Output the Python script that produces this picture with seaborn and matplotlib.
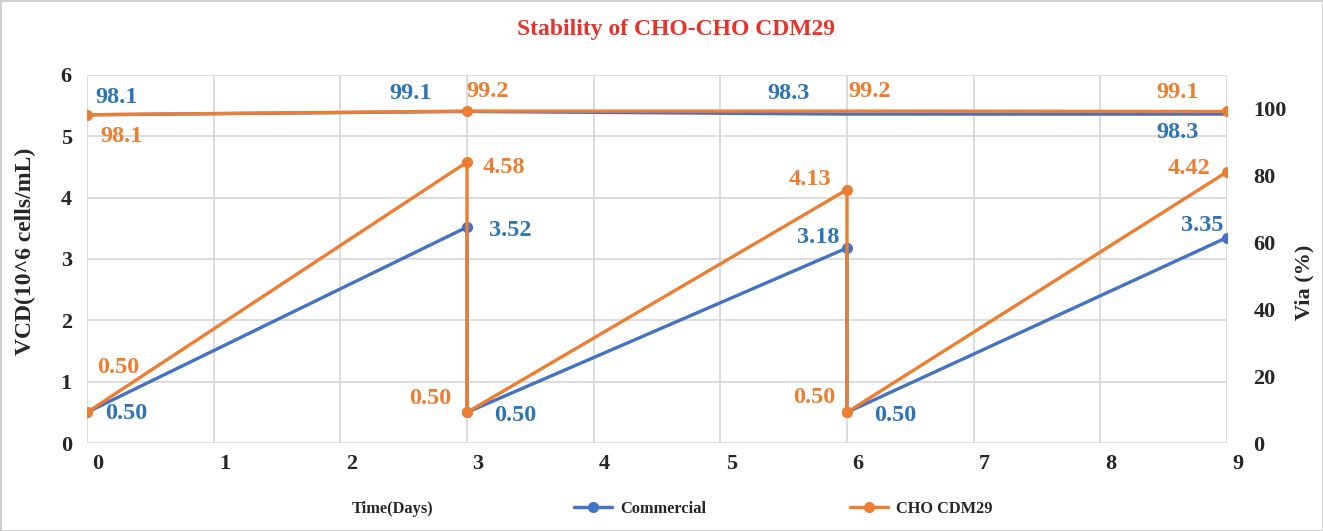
import numpy as np
import pandas as pd
import seaborn as sns
import matplotlib.pyplot as plt
from matplotlib.lines import Line2D
from matplotlib.transforms import ScaledTranslation

# data
days = [0, 3, 3, 6, 6, 9]
vcd_commercial = [0.50, 3.52, 0.50, 3.18, 0.50, 3.35]
vcd_cdm29 = [0.50, 4.58, 0.50, 4.13, 0.50, 4.42]
via_days = [0, 3, 6, 9]
via_commercial = [98.1, 99.1, 98.3, 98.3]
via_cdm29 = [98.1, 99.2, 99.2, 99.1]
series_names = ["Commercial", "CHO CDM29"]

BLUE = "#4472C4"
ORANGE = "#ED7D31"

sns.set_theme(style="white")
plt.rcParams['font.family'] = ['Liberation Serif', 'DejaVu Serif']
plt.rcParams['font.weight'] = 'bold'

fig = plt.figure(figsize=(13.23, 5.31), dpi=100)
fig.patch.set_edgecolor('#d0d0d0')
fig.patch.set_linewidth(2)
ax = fig.add_axes([0.0658, 0.1657, 0.8616, 0.6931])
ax2 = ax.twinx()

for y, c in [(vcd_commercial, BLUE), (vcd_cdm29, ORANGE)]:
    sns.lineplot(x=days, y=y, ax=ax, sort=False, color=c, marker='o',
                 markersize=8, markeredgewidth=0, linewidth=2.4, estimator=None)
# viability lines: only the orange one shows markers in the original
sns.lineplot(x=via_days, y=via_commercial, ax=ax2, sort=False, color=BLUE,
             linewidth=2.4, estimator=None)
sns.lineplot(x=via_days, y=via_cdm29, ax=ax2, sort=False, color=ORANGE, marker='o',
             markersize=8, markeredgewidth=0, linewidth=2.4, estimator=None,
             markevery=[0, 1, 3])

ax.set_xlim(0, 9)
ax.set_ylim(0, 6)
ax2.set_ylim(0, 110)
ax.set_xticks(range(10))
ax.set_yticks(range(7))
ax2.set_yticks(range(0, 101, 20))
ax.grid(True, color='#d9d9d9', linewidth=1.3)
ax.set_axisbelow(True)
for a in (ax, ax2):
    for s in a.spines.values():
        s.set_visible(False)
ax.tick_params(axis='x', length=0, pad=8, labelsize=16)
ax.tick_params(axis='y', length=0, pad=11, labelsize=16)
ax2.tick_params(axis='y', length=0, pad=19, labelsize=16)
for lab in ax.get_xticklabels():
    lab.set_transform(lab.get_transform() + ScaledTranslation(0.11, 0, fig.dpi_scale_trans))

ax.set_ylabel("VCD(10^6 cells/mL)", fontsize=17, fontweight='bold')
ax2.set_ylabel("Via (%)", fontsize=16, fontweight='bold')
ax.set_xlabel("")
ax.yaxis.set_label_coords(-0.045, 0.52)
ax2.yaxis.set_label_coords(1.059, 0.437)

fig.text(0.511, 0.944, "Stability of CHO-CHO CDM29", color='#E8332A',
         fontsize=17, fontweight='bold', ha='center', va='center')

# data labels, offsets in pixels
def put(a, xs, ys, texts, offs, color):
    for x, y, t, (dx, dy, ha) in zip(xs, ys, texts, offs):
        a.annotate(t, (x, y), xytext=(dx, dy), textcoords='offset pixels',
                   ha=ha, va='center', color=color, fontsize=17.5, fontweight='bold')

put(ax, days, vcd_commercial, [f"{v:.2f}" for v in vcd_commercial],
    [(18, -1, 'left'), (22, -3, 'left'), (27, -3, 'left'),
     (-8, 10, 'right'), (27, -3, 'left'), (-3, 12, 'right')], '#2E75B6')
put(ax, days, vcd_cdm29, [f"{v:.2f}" for v in vcd_cdm29],
    [(10, 45, 'left'), (16, -5, 'left'), (-16, 14, 'right'),
     (-16, 10, 'right'), (-12, 15, 'right'), (-17, 3, 'right')], ORANGE)
put(ax2, via_days, via_commercial, [f"{v:.1f}" for v in via_commercial],
    [(8, 17, 'left'), (-35, 18, 'right'), (-37, 21, 'right'), (-28, -18, 'right')], '#2E75B6')
put(ax2, via_days, via_cdm29, [f"{v:.1f}" for v in via_cdm29],
    [(13, -22, 'left'), (-1, 20, 'left'), (1, 20, 'left'), (-28, 19, 'right')], ORANGE)

# legend row
fig.text(392 / 1323, 1 - 509 / 531, "Time(Days)", fontsize=11.8,
         fontweight='bold', ha='center', va='center')
handles = [Line2D([0], [0], color=BLUE, marker='o', markersize=7, linewidth=2.5),
           Line2D([0], [0], color=ORANGE, marker='o', markersize=7, linewidth=2.5)]
fig.legend(handles, series_names, loc='center', ncol=2,
           bbox_to_anchor=(0.592, 1 - 509 / 531), frameon=False,
           prop={'size': 11.8, 'weight': 'bold'}, handlelength=2.3,
           columnspacing=8.8, handletextpad=0.5)

fig.savefig("out.png", dpi=100, edgecolor=fig.get_edgecolor())
